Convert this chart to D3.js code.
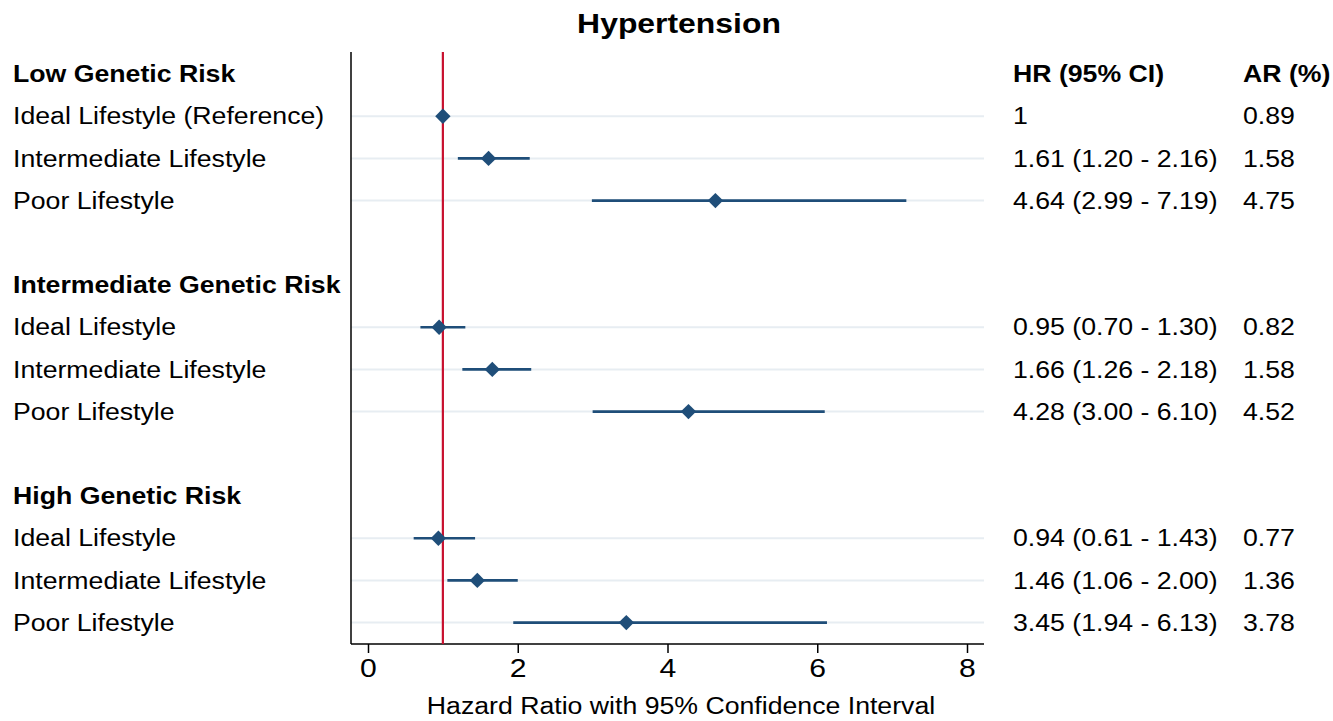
<!DOCTYPE html>
<html>
<head>
<meta charset="utf-8">
<script src="https://cdn.jsdelivr.net/npm/d3@7"></script>
<style>
  body { margin: 0; background: #fff; }
  text { font-family: "Liberation Sans", Arial, sans-serif; fill: #000; }
</style>
</head>
<body>
<svg id="chart" width="1333" height="721"></svg>
<script>
// Row labels, in display order
const groups = ['Low Genetic Risk', 'Intermediate Genetic Risk', 'High Genetic Risk'];
const lifestyles = [
  ['Ideal Lifestyle (Reference)', 'Intermediate Lifestyle', 'Poor Lifestyle'],
  ['Ideal Lifestyle', 'Intermediate Lifestyle', 'Poor Lifestyle'],
  ['Ideal Lifestyle', 'Intermediate Lifestyle', 'Poor Lifestyle'],
];

// Hazard ratios and CIs (per group, per lifestyle)
const hr = [[1, 1.61, 4.64], [0.95, 1.66, 4.28], [0.94, 1.46, 3.45]];
const lower = [[1, 1.20, 2.99], [0.70, 1.26, 3.00], [0.61, 1.06, 1.94]];
const upper = [[1, 2.16, 7.19], [1.30, 2.18, 6.10], [1.43, 2.00, 6.13]];
const hrText = [
  ['1', '1.61 (1.20 - 2.16)', '4.64 (2.99 - 7.19)'],
  ['0.95 (0.70 - 1.30)', '1.66 (1.26 - 2.18)', '4.28 (3.00 - 6.10)'],
  ['0.94 (0.61 - 1.43)', '1.46 (1.06 - 2.00)', '3.45 (1.94 - 6.13)'],
];
const arText = [['0.89', '1.58', '4.75'], ['0.82', '1.58', '4.52'], ['0.77', '1.36', '3.78']];
const xTicks = [0, 2, 4, 6, 8];

// Flatten into rows (each group: header + 3 rows + blank spacer)
const rows = [];
groups.forEach(function(g, gi) {
  rows.push({ type: 'header', label: g, idx: gi * 5 });
  lifestyles[gi].forEach(function(l, li) {
    rows.push({
      type: 'data', label: l, idx: gi * 5 + li + 1,
      hr: hr[gi][li], lo: lower[gi][li], hi: upper[gi][li],
      hrText: hrText[gi][li], arText: arText[gi][li],
    });
  });
});
const dataRows = rows.filter(function(d) { return d.type === 'data'; });

const layout = { left: 351, right: 984, top: 52, bottom: 644 };
const stretch = 1.16;  // the original's text is horizontally stretched
const svg = d3.select('#chart');

const x = d3.scaleLinear().domain([0, 8]).range([368, 967]);
const y = d3.scaleLinear().domain([0, 13]).range([74, 622.6]);

// Stretched text helper
function place(px, py) {
  return `translate(${px}, ${py}) scale(${stretch}, 1)`;
}

// Gridlines for data rows
svg.append('g').selectAll('line')
  .data(dataRows)
  .join('line')
  .attr('x1', layout.left).attr('x2', layout.right)
  .attr('y1', function(d) { return y(d.idx); })
  .attr('y2', function(d) { return y(d.idx); })
  .attr('stroke', '#e7edf2').attr('stroke-width', 2);

// Y axis line
svg.append('line')
  .attr('x1', layout.left).attr('x2', layout.left)
  .attr('y1', layout.top).attr('y2', layout.bottom)
  .attr('stroke', '#000').attr('stroke-width', 1.5);

// X axis
const xAxis = svg.append('g')
  .attr('transform', `translate(0, ${layout.bottom})`)
  .call(d3.axisBottom(x).tickValues(xTicks).tickSize(9).tickPadding(6));
xAxis.select('.domain').remove();
xAxis.append('line')
  .attr('x1', layout.left).attr('x2', layout.right)
  .attr('stroke', '#000').attr('stroke-width', 1.5);
xAxis.selectAll('.tick line').attr('stroke', '#000').attr('stroke-width', 1.5);
xAxis.selectAll('.tick text')
  .style('font-family', '"Liberation Sans", Arial, sans-serif')
  .style('font-size', '26px').attr('fill', '#000')
  .attr('transform', `scale(${stretch}, 1)`);

// Reference line at HR = 1
svg.append('line')
  .attr('x1', x(1)).attr('x2', x(1))
  .attr('y1', layout.top).attr('y2', layout.bottom)
  .attr('stroke', '#c8102e').attr('stroke-width', 2.2);

// CI lines and diamonds
svg.append('g').selectAll('line')
  .data(dataRows.filter(function(d) { return d.hi > d.lo; }))
  .join('line')
  .attr('x1', function(d) { return x(d.lo); })
  .attr('x2', function(d) { return x(d.hi); })
  .attr('y1', function(d) { return y(d.idx); })
  .attr('y2', function(d) { return y(d.idx); })
  .attr('stroke', '#1f4e79').attr('stroke-width', 2.6);

svg.append('g').selectAll('path')
  .data(dataRows)
  .join('path')
  .attr('d', d3.symbol(d3.symbolSquare, 118))
  .attr('transform', function(d) { return `translate(${x(d.hr)}, ${y(d.idx)}) rotate(45)`; })
  .attr('fill', '#1f4e79');

// Row labels
svg.append('g').selectAll('text')
  .data(rows)
  .join('text')
  .attr('transform', function(d) { return place(13, y(d.idx)); })
  .attr('dy', '0.36em')
  .style('font-size', '23px')
  .style('font-weight', function(d) { return d.type === 'header' ? 'bold' : 'normal'; })
  .text(function(d) { return d.label; });

// Right-hand columns
svg.append('text').attr('transform', place(1013, y(0))).attr('dy', '0.36em')
  .style('font-size', '23px').style('font-weight', 'bold').text('HR (95% CI)');
svg.append('text').attr('transform', place(1243, y(0))).attr('dy', '0.36em')
  .style('font-size', '23px').style('font-weight', 'bold').text('AR (%)');

svg.append('g').selectAll('text')
  .data(dataRows)
  .join('text')
  .attr('transform', function(d) { return place(1013, y(d.idx)); })
  .attr('dy', '0.36em')
  .style('font-size', '23px')
  .text(function(d) { return d.hrText; });

svg.append('g').selectAll('text')
  .data(dataRows)
  .join('text')
  .attr('transform', function(d) { return place(1243, y(d.idx)); })
  .attr('dy', '0.36em')
  .style('font-size', '23px')
  .text(function(d) { return d.arText; });

// Title and axis title
svg.append('text').attr('transform', place(679, 33)).attr('text-anchor', 'middle')
  .style('font-size', '27.5px').style('font-weight', 'bold').text('Hypertension');
svg.append('text').attr('transform', place(681, 714)).attr('text-anchor', 'middle')
  .style('font-size', '23px').text('Hazard Ratio with 95% Confidence Interval');
</script>
</body>
</html>
